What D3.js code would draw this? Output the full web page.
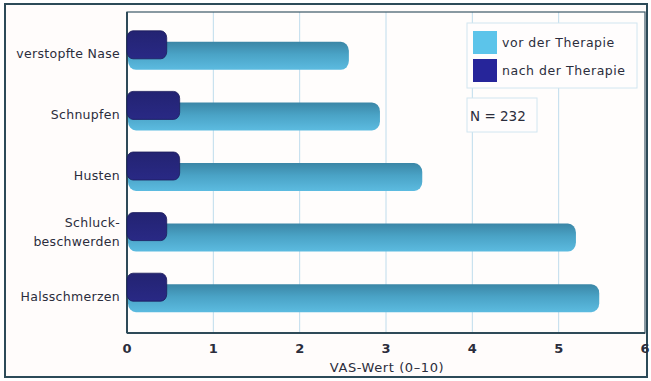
<!DOCTYPE html>
<html>
<head>
<meta charset="utf-8">
<script src="https://cdn.jsdelivr.net/npm/d3@7"></script>
<style>
  html, body { margin: 0; padding: 0; background: #ffffff; }
  svg { display: block; }
  text { font-family: "DejaVu Sans", "Open Sans", sans-serif; fill: #2b2d3c; }
</style>
</head>
<body>
<svg id="chart" width="651" height="381"></svg>
<script>
// Symptom categories (top to bottom) and VAS scores
const categories = ["verstopfte Nase", "Schnupfen", "Husten", "Schluck-\nbeschwerden", "Halsschmerzen"];
const vorTherapie = [2.57, 2.93, 3.42, 5.2, 5.47];
const nachTherapie = [0.46, 0.61, 0.61, 0.46, 0.46];
const xTicks = [0, 1, 2, 3, 4, 5, 6];
const seriesNames = ["vor der Therapie", "nach der Therapie"];
const sampleNote = "N = 232";
const xTitle = "VAS-Wert (0–10)";

const svg = d3.select("#chart");
const plot = { left: 127, right: 645, top: 12, bottom: 333 };

const x = d3.scaleLinear().domain([0, 6]).range([plot.left, plot.right]);
const y = d3.scaleBand().domain(categories).range([20, 323]).padding(0);

const defs = svg.append("defs");
const grad = defs.append("linearGradient")
  .attr("id", "vorGrad").attr("x1", 0).attr("y1", 0).attr("x2", 0).attr("y2", 1);
grad.append("stop").attr("offset", "0%").attr("stop-color", "#3b86a6");
grad.append("stop").attr("offset", "45%").attr("stop-color", "#4aa3c6");
grad.append("stop").attr("offset", "100%").attr("stop-color", "#5cbbe0");

const navyGrad = defs.append("linearGradient")
  .attr("id", "nachGrad").attr("x1", 0).attr("y1", 0).attr("x2", 0).attr("y2", 1);
navyGrad.append("stop").attr("offset", "0%").attr("stop-color", "#232372");
navyGrad.append("stop").attr("offset", "100%").attr("stop-color", "#292985");

// outer frame
svg.append("rect")
  .attr("x", 5).attr("y", 4).attr("width", 642).attr("height", 373)
  .attr("fill", "#fffcfb").attr("stroke", "#2c4a58").attr("stroke-width", 2);

// plot background
svg.append("rect")
  .attr("x", plot.left).attr("y", plot.top)
  .attr("width", plot.right - plot.left).attr("height", plot.bottom - plot.top)
  .attr("fill", "#fffdfc");

// vertical grid lines
svg.append("g").selectAll("line")
  .data(xTicks.slice(1, -1))
  .join("line")
  .attr("x1", d => x(d)).attr("x2", d => x(d))
  .attr("y1", plot.top).attr("y2", plot.bottom)
  .attr("stroke", "#bfdcec").attr("stroke-width", 1);

// plot border
svg.append("rect")
  .attr("x", plot.left).attr("y", plot.top)
  .attr("width", plot.right - plot.left).attr("height", plot.bottom - plot.top)
  .attr("fill", "none").attr("stroke", "#3b5866").attr("stroke-width", 1.2);
svg.append("line")
  .attr("x1", plot.left).attr("x2", plot.left)
  .attr("y1", plot.top).attr("y2", plot.bottom)
  .attr("stroke", "#2e4a58").attr("stroke-width", 2);
svg.append("line")
  .attr("x1", plot.left).attr("x2", plot.right)
  .attr("y1", plot.bottom).attr("y2", plot.bottom)
  .attr("stroke", "#2e4a58").attr("stroke-width", 2);

const barH = 28;
const center = c => y(c) + y.bandwidth() / 2;

// "vor der Therapie" bars (behind)
svg.append("g").selectAll("rect")
  .data(categories)
  .join("rect")
  .attr("x", x(0) + 1)
  .attr("y", c => center(c) - 8.5)
  .attr("width", (c, i) => x(vorTherapie[i]) - x(0) - 1)
  .attr("height", barH)
  .attr("rx", 8).attr("ry", 9)
  .attr("fill", "url(#vorGrad)");

// "nach der Therapie" bars (front)
svg.append("g").selectAll("rect")
  .data(categories)
  .join("rect")
  .attr("x", x(0))
  .attr("y", c => center(c) - 19.5)
  .attr("width", (c, i) => x(nachTherapie[i]) - x(0))
  .attr("height", barH)
  .attr("rx", 6).attr("ry", 7)
  .attr("fill", "url(#nachGrad)")
  .attr("stroke", "#1c1c5c").attr("stroke-width", 0.8);

// category labels
const labels = svg.append("g").selectAll("text")
  .data(categories)
  .join("text")
  .attr("text-anchor", "end")
  .attr("font-size", 12.5)
  .attr("letter-spacing", 0.3)
  .attr("x", 120)
  .attr("y", c => center(c) + 4);
labels.each(function (c) {
  const lines = c.split("\n");
  const t = d3.select(this);
  lines.forEach((ln, k) => {
    t.append("tspan")
      .attr("x", 120)
      .attr("dy", k === 0 ? (lines.length > 1 ? -9 : 4) : 19)
      .text(ln);
  });
});

// x axis tick labels
svg.append("g").selectAll("text")
  .data(xTicks)
  .join("text")
  .attr("x", d => x(d))
  .attr("y", 353)
  .attr("text-anchor", "middle")
  .attr("font-size", 13)
  .attr("font-weight", "bold")
  .attr("fill", "#3a4a5a")
  .text(d => d);

// x axis title
svg.append("text")
  .attr("x", 387).attr("y", 372)
  .attr("text-anchor", "middle")
  .attr("font-size", 13)
  .attr("letter-spacing", 0.6)
  .text(xTitle);

// legend
const leg = svg.append("g");
leg.append("rect")
  .attr("x", 467).attr("y", 23).attr("width", 170).attr("height", 65)
  .attr("fill", "#fffdfd").attr("stroke", "#d2e6f0").attr("stroke-width", 1);
const legColors = ["#5cc4ea", "#26259a"];
seriesNames.forEach((name, i) => {
  leg.append("rect")
    .attr("x", 473).attr("y", 31 + i * 28)
    .attr("width", 24).attr("height", 23)
    .attr("fill", legColors[i]);
  leg.append("text")
    .attr("x", 502).attr("y", 47 + i * 28)
    .attr("font-size", 12.5)
    .attr("letter-spacing", 0.55)
    .text(name);
});

// sample size note
svg.append("rect")
  .attr("x", 467).attr("y", 98).attr("width", 70).attr("height", 34)
  .attr("fill", "#fffdfd").attr("stroke", "#d2e6f0").attr("stroke-width", 1);
svg.append("text")
  .attr("x", 470).attr("y", 121)
  .attr("font-size", 13.5)
  .text(sampleNote);
</script>
</body>
</html>
